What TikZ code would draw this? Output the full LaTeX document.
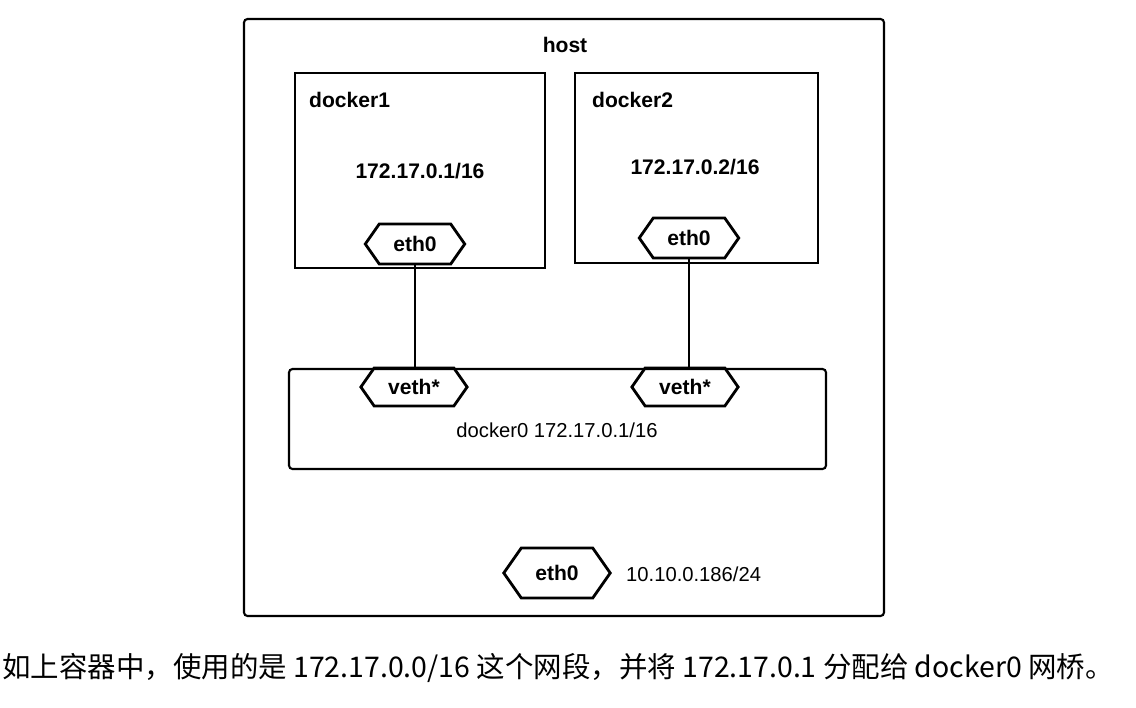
\documentclass[tikz,border=0pt]{standalone}
\usepackage{fontspec}
\setmainfont{Liberation Sans}
\newfontfamily\cjk{Noto Sans CJK SC}
\usetikzlibrary{shapes.symbols}
\begin{document}
\begin{tikzpicture}[x=0.02cm,y=-0.02cm,
  box/.style={draw,line width=1.2pt,rounded corners=2pt},
  port/.style={draw,line width=1.6pt,shape=signal,signal to=west and east,
    signal pointer angle=110,minimum height=0.8cm,inner xsep=8pt,
    font=\bfseries\fontsize{12}{14}\selectfont},
  title/.style={font=\bfseries\fontsize{12}{14}\selectfont},
  plain/.style={font=\fontsize{11.5}{14}\selectfont}]
\useasboundingbox (0,0) rectangle (1136,707);

% host and containers
\draw[box] (244,19) rectangle (884,616);
\node[title] (hostlbl) at (565,45) {host};
\draw[line width=1.2pt] (295,73) rectangle (545,268);
\node[title,anchor=west] (d1lbl) at (303,100) {docker1};
\node[title] (d1ip) at (420,171) {172.17.0.1/16};
\draw[line width=1.2pt] (575,73) rectangle (818,263);
\node[title,anchor=west] (d2lbl) at (586,100) {docker2};
\node[title] (d2ip) at (695,167) {172.17.0.2/16};

% bridge
\draw[box] (289,369) rectangle (826,469);
\node[plain] (brlbl) at (557,430) {docker0 172.17.0.1/16};

% interfaces
\node[port,minimum width=96*0.02cm] (eth1) at (415,244) {eth0};
\node[port,minimum width=96*0.02cm] (eth2) at (689,238) {eth0};
\node[port,minimum width=104*0.02cm,minimum height=0.76cm] (veth1) at (414,387) {veth*};
\node[port,minimum width=104*0.02cm,minimum height=0.76cm] (veth2) at (685,387) {veth*};
\node[port,minimum width=94*0.02cm,minimum height=1cm] (ethh) at (557,573) {eth0};
\node[plain,anchor=west] (hostip) at (620,574) {10.10.0.186/24};

% links
\draw[line width=1.2pt] (eth1.south) -- (eth1.south |- veth1.north);
\draw[line width=1.2pt] (eth2.south) -- (eth2.south |- veth2.north);

% caption
\node[anchor=west,inner sep=0pt,font=\cjk\fontsize{16.2}{18}\selectfont] (cap) at (2,668)
  {如上容器中，使用的是 172.17.0.0/16 这个网段，并将 172.17.0.1 分配给 docker0 网桥。};
\end{tikzpicture}
\end{document}
